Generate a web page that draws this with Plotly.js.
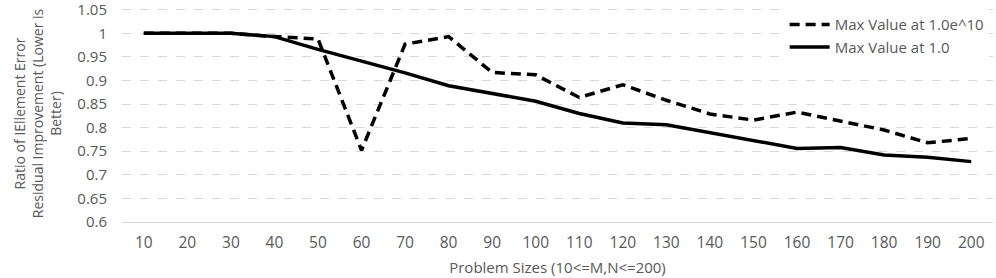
<!DOCTYPE html>
<html><head><meta charset="utf-8">
<script src="https://cdn.plot.ly/plotly-3.0.1.min.js"></script>
<style>html,body{margin:0;padding:0;background:#fff}#chart{width:996px;height:278px}</style>
</head><body><div id="chart"></div>
<script>
const sizes = ["10","20","30","40","50","60","70","80","90","100","110","120","130","140","150","160","170","180","190","200"];
const maxValue1e10 = [1.0,1.0,1.0,0.993,0.988,0.752,0.977,0.993,0.917,0.912,0.864,0.891,0.858,0.829,0.816,0.833,0.814,0.795,0.768,0.777];
const maxValue1 = [1.0,1.0,1.0,0.993,0.966,0.941,0.916,0.889,0.872,0.856,0.830,0.810,0.806,0.789,0.772,0.756,0.758,0.742,0.737,0.728];
const yTicks = [0.6,0.65,0.7,0.75,0.8,0.85,0.9,0.95,1,1.05];
const yTickText = ["0.6","0.65","0.7","0.75","0.8","0.85","0.9","0.95","1","1.05"];

const fam = "Open Sans, sans-serif";
const grey = "#595959";
const traces = [
  {x: sizes, y: maxValue1e10, type: "scatter", mode: "lines", name: "Max Value at 1.0e^10",
   line: {color: "#000", width: 3.5, dash: "10px,6px"}},
  {x: sizes, y: maxValue1, type: "scatter", mode: "lines", name: "Max Value at 1.0",
   line: {color: "#000", width: 3.5}}
];
const layout = {
  width: 996, height: 278,
  margin: {l: 122, r: 3, t: 5, b: 56},
  paper_bgcolor: "#fff", plot_bgcolor: "#fff",
  font: {family: fam, size: 14, color: grey},
  showlegend: true,
  legend: {x: 0.995, xanchor: "right", y: 0.985, yanchor: "top", bgcolor: "#fff",
           font: {family: fam, size: 15, color: grey},
           tracegroupgap: 0, itemwidth: 40},
  xaxis: {type: "category", range: [-0.5, 19.5], showgrid: false, zeroline: false,
          showline: true, linecolor: "#d9d9d9", linewidth: 1, ticks: "", ticklabelstandoff: 6,
          tickfont: {family: fam, size: 15.5, color: grey},
          title: {text: "Problem Sizes (10<=M,N<=200)", standoff: 10,
                  font: {family: fam, size: 15, color: grey}}},
  yaxis: {range: [0.6, 1.06], tickvals: yTicks, ticktext: yTickText,
          showgrid: true, gridcolor: "#d9d9d9", griddash: "dash", gridwidth: 1,
          zeroline: false, showline: false, ticks: "", ticklabelstandoff: 14,
          ticklabeloverflow: "allow",
          tickfont: {family: fam, size: 15, color: grey},
          title: {text: "Ratio of IEllement Error<br>Residual Improvement (Lower is<br>Better)", standoff: 12,
                  font: {family: fam, size: 14, color: grey}}}
};
Plotly.newPlot("chart", traces, layout, {displayModeBar: false, staticPlot: true});
</script></body></html>
